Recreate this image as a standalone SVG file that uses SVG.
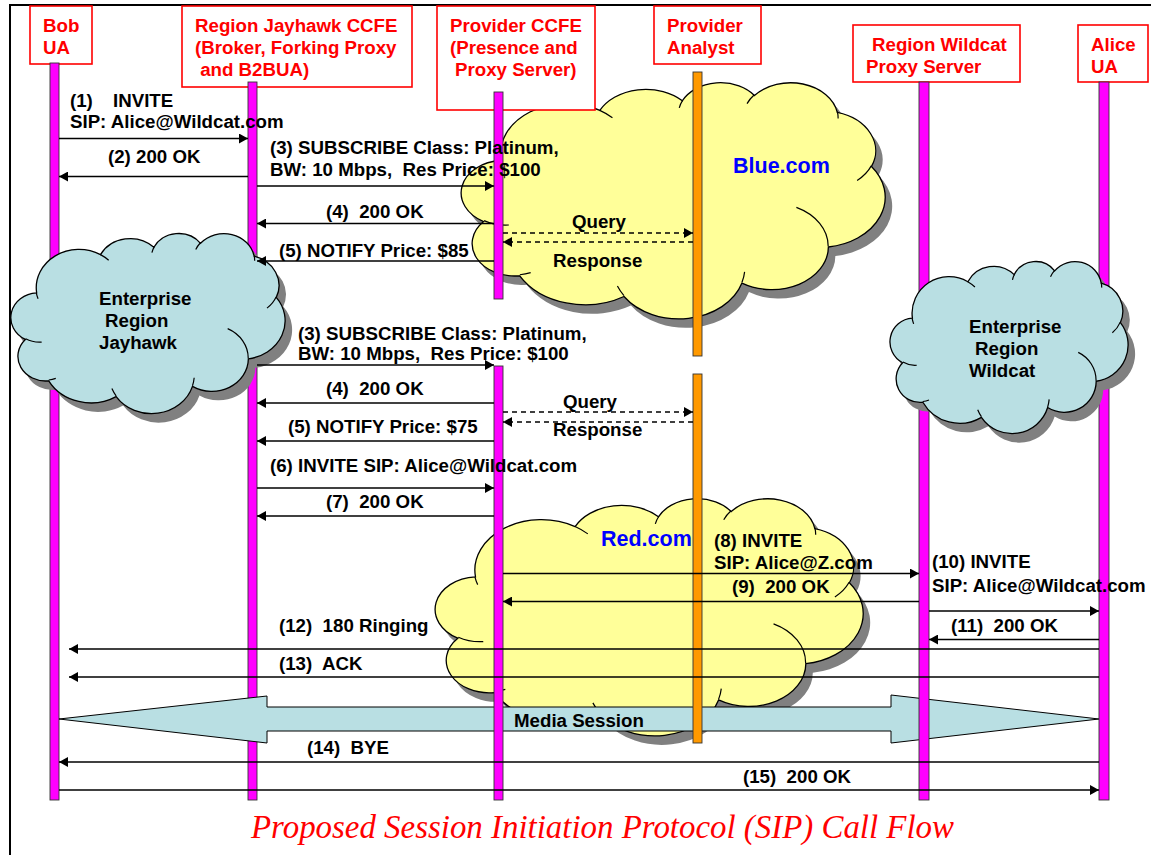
<svg xmlns="http://www.w3.org/2000/svg" xmlns:xlink="http://www.w3.org/1999/xlink" width="1151" height="855" viewBox="0 0 1151 855">
  <style>
    text { font-family: "Liberation Sans", Arial, sans-serif; font-weight: bold; font-size: 18.7px; white-space: pre; }
    .hdr { fill: #FF0000; }
    .hbox { fill: #FFFFFF; stroke: #FF0000; stroke-width: 1.6; }
    .life { fill: #FF00FF; stroke: #333333; stroke-width: 0.9; }
    .life-o { fill: #FF9900; stroke: #333333; stroke-width: 0.9; }
    .msg { stroke: #000000; stroke-width: 1.6; fill: none; marker-end: url(#ah); }
    .dash { stroke-dasharray: 5 4; }
    .lbl { fill: #000000; }
    .dom { fill: #0000FF; font-size: 21.5px; }
    .shadow { fill: #808080; stroke: none; }
    .yel { fill: #FFFF99; stroke: #000000; stroke-width: 1.3; }
    .cyan { fill: #B9DFE3; stroke: #000000; stroke-width: 1.3; }
    .inner { fill: none; stroke: #000000; stroke-width: 1.2; }
    .title { font-family: "Liberation Serif", "Times New Roman", serif; font-style: italic; font-weight: normal; font-size: 34px; fill: #FF0000; }
  </style>
  <defs>
    <marker id="ah" viewBox="0 0 9 10" refX="9" refY="5" markerWidth="9" markerHeight="10" markerUnits="userSpaceOnUse" orient="auto">
      <path d="M0,0 L9,5 L0,10 Z" fill="#000000"/>
    </marker>
    <!-- cloud outline in a 100x100 box, built from elliptical bumps -->
    <path id="cloud" vector-effect="non-scaling-stroke" d="M9.03,33.26 A15.63,21.27 0 0 1 32.42,12.04 A12.34,16.82 0 0 1 51.98,7.94 A10.10,13.76 0 0 1 69.06,5.73 A11.24,15.27 0 0 1 88.70,12.90 A12.34,16.84 0 0 1 96.80,35.78 A15.68,21.34 0 0 1 86.58,69.91 A13.39,18.21 0 0 1 66.10,85.21 A15.63,21.33 0 0 1 38.15,90.89 A17.87,24.41 0 0 1 13.44,82.11 A10.09,13.70 0 0 1 4.89,59.14 A10.06,13.76 0 0 1 9.03,33.26 Z"/>
    <!-- inner arcs where neighbouring bumps overlap -->
    <path id="cloud-in" vector-effect="non-scaling-stroke" d="M10.86,60.60 A10.06,13.76 0 0 1 5.00,58.75 M16.04,80.78 A10.09,13.70 0 0 1 13.47,81.67 M38.14,90.49 A15.63,21.33 0 0 1 36.59,86.45 M66.73,80.44 A15.63,21.33 0 0 1 66.11,84.86 M79.00,53.13 A13.39,18.21 0 0 1 86.53,69.65 M96.75,35.54 A12.34,16.84 0 0 1 93.40,41.74 M88.71,12.56 A11.24,15.27 0 0 1 88.89,15.48 M67.31,9.15 A11.24,15.27 0 0 1 69.03,5.41 M51.25,10.93 A10.10,13.76 0 0 1 52.08,7.71 M32.41,12.02 A15.63,21.27 0 0 1 35.41,15.14 M9.55,36.55 A15.63,21.27 0 0 1 8.90,33.25"/>
  </defs>

  <!-- page frame -->
  <path d="M10,855 V5 H1151" fill="none" stroke="#000000" stroke-width="2"/>

  <g id="bob-ua">
    <rect class="hbox" x="30" y="6" width="62" height="58"/>
    <text class="hdr" x="43" y="32">Bob</text>
    <text class="hdr" x="43" y="54">UA</text>
    <rect class="life" x="50" y="63" width="9" height="737"/>
  </g>

  <g id="region-jayhawk-ccfe">
    <rect class="hbox" x="182" y="6" width="230" height="81"/>
    <text class="hdr" x="195" y="32">Region Jayhawk CCFE</text>
    <text class="hdr" x="195" y="54">(Broker, Forking Proxy</text>
    <text class="hdr" x="195" y="76"> and B2BUA)</text>
    <rect class="life" x="248" y="82" width="9" height="718"/>
  </g>

  <g id="enterprise-region-jayhawk">
    <use xlink:href="#cloud" class="shadow" transform="translate(19,242) scale(2.73,1.80)"/>
    <use xlink:href="#cloud" class="cyan" transform="translate(12,233) scale(2.73,1.80)"/>
    <use xlink:href="#cloud-in" class="inner" transform="translate(12,233) scale(2.73,1.80)"/>
    <text class="lbl" x="99" y="305">Enterprise</text>
    <text class="lbl" x="105" y="327">Region</text>
    <text class="lbl" x="99" y="349">Jayhawk</text>
  </g>

  <g id="blue-com">
    <use xlink:href="#cloud" class="shadow" transform="translate(470,91) scale(4.22,2.36)"/>
    <use xlink:href="#cloud" class="yel" transform="translate(463,82) scale(4.22,2.36)"/>
    <use xlink:href="#cloud-in" class="inner" transform="translate(463,82) scale(4.22,2.36)"/>
    <text class="dom" x="733" y="173">Blue.com</text>
  </g>

  <g id="red-com">
    <use xlink:href="#cloud" class="shadow" transform="translate(444,507) scale(4.26,2.37)"/>
    <use xlink:href="#cloud" class="yel" transform="translate(437,498) scale(4.26,2.37)"/>
    <use xlink:href="#cloud-in" class="inner" transform="translate(437,498) scale(4.26,2.37)"/>
    <text class="dom" x="601" y="546">Red.com</text>
  </g>

  <g id="media-session">
    <polygon points="59,719 267,696 267,707 891,707 891,695 1099,719 891,743 891,731 267,731 267,743" fill="#B9DFE3" stroke="#000000" stroke-width="1"/>
    <text class="lbl" x="514" y="727">Media Session</text>
  </g>

  <g id="region-wildcat-proxy">
    <rect class="hbox" x="853" y="25" width="167" height="57"/>
    <text class="hdr" x="872" y="51">Region Wildcat</text>
    <text class="hdr" x="866" y="73">Proxy Server</text>
    <rect class="life" x="919" y="82" width="10" height="718"/>
  </g>

  <g id="alice-ua">
    <rect class="hbox" x="1078" y="25" width="70" height="57"/>
    <text class="hdr" x="1091" y="51">Alice</text>
    <text class="hdr" x="1091" y="73">UA</text>
    <rect class="life" x="1099" y="82" width="10" height="718"/>
  </g>

  <g id="enterprise-region-wildcat">
    <use xlink:href="#cloud" class="shadow" transform="translate(898,270) scale(2.37,1.72)"/>
    <use xlink:href="#cloud" class="cyan" transform="translate(891,261) scale(2.37,1.72)"/>
    <use xlink:href="#cloud-in" class="inner" transform="translate(891,261) scale(2.37,1.72)"/>
    <text class="lbl" x="969" y="333">Enterprise</text>
    <text class="lbl" x="975" y="355">Region</text>
    <text class="lbl" x="969" y="377">Wildcat</text>
  </g>

  <g id="provider-ccfe">
    <rect class="hbox" x="437" y="6" width="158" height="104"/>
    <text class="hdr" x="450" y="32">Provider CCFE</text>
    <text class="hdr" x="450" y="54">(Presence and</text>
    <text class="hdr" x="455" y="76">Proxy Server)</text>
    <rect class="life" x="494" y="92" width="9" height="207"/>
    <rect class="life" x="494" y="366" width="9" height="434"/>
  </g>

  <g id="provider-analyst">
    <rect class="hbox" x="654" y="6" width="107" height="58"/>
    <text class="hdr" x="667" y="32">Provider</text>
    <text class="hdr" x="667" y="54">Analyst</text>
    <rect class="life-o" x="693" y="72" width="9" height="284"/>
    <rect class="life-o" x="693" y="374" width="9" height="369"/>
  </g>

  <g id="connectors">
    <line class="msg" x1="59" y1="138.5" x2="248" y2="138.5"/>
    <line class="msg" x1="248" y1="176.5" x2="59" y2="176.5"/>
    <line class="msg" x1="257" y1="186" x2="494" y2="186"/>
    <line class="msg" x1="494" y1="223.5" x2="257" y2="223.5"/>
    <line class="msg" x1="494" y1="261" x2="257" y2="261"/>
    <line class="msg dash" x1="503" y1="233" x2="693" y2="233"/>
    <line class="msg dash" x1="693" y1="242" x2="503" y2="242"/>
    <line class="msg" x1="257" y1="365" x2="494" y2="365"/>
    <line class="msg" x1="494" y1="403" x2="257" y2="403"/>
    <line class="msg" x1="494" y1="441" x2="257" y2="441"/>
    <line class="msg dash" x1="503" y1="412" x2="693" y2="412"/>
    <line class="msg dash" x1="693" y1="422" x2="503" y2="422"/>
    <line class="msg" x1="257" y1="488" x2="494" y2="488"/>
    <line class="msg" x1="494" y1="516" x2="257" y2="516"/>
    <line class="msg" x1="503" y1="573.5" x2="919" y2="573.5"/>
    <line class="msg" x1="919" y1="601.5" x2="503" y2="601.5"/>
    <line class="msg" x1="929" y1="611" x2="1099" y2="611"/>
    <line class="msg" x1="1099" y1="639.5" x2="929" y2="639.5"/>
    <line class="msg" x1="1099" y1="649" x2="69" y2="649"/>
    <line class="msg" x1="1099" y1="677" x2="69" y2="677"/>
    <line class="msg" x1="1099" y1="762" x2="59" y2="762"/>
    <line class="msg" x1="59" y1="790" x2="1099" y2="790"/>

    <text class="lbl" x="70" y="107">(1)<tspan x="113">INVITE</tspan></text>
    <text class="lbl" x="70" y="128">SIP: Alice@Wildcat.com</text>
    <text class="lbl" x="108" y="163">(2) 200 OK</text>
    <text class="lbl" x="270" y="154">(3) SUBSCRIBE Class: Platinum,</text>
    <text class="lbl" x="270" y="176">BW: 10 Mbps,  Res Price: $100</text>
    <text class="lbl" x="326" y="218">(4)  200 OK</text>
    <text class="lbl" x="279" y="257">(5) NOTIFY Price: $85</text>
    <text class="lbl" x="572" y="228">Query</text>
    <text class="lbl" x="553" y="267">Response</text>

    <text class="lbl" x="298" y="340">(3) SUBSCRIBE Class: Platinum,</text>
    <text class="lbl" x="298" y="360">BW: 10 Mbps,  Res Price: $100</text>
    <text class="lbl" x="326" y="395">(4)  200 OK</text>
    <text class="lbl" x="288" y="433">(5) NOTIFY Price: $75</text>
    <text class="lbl" x="563" y="408">Query</text>
    <text class="lbl" x="553" y="436">Response</text>
    <text class="lbl" x="270" y="472">(6) INVITE SIP: Alice@Wildcat.com</text>
    <text class="lbl" x="326" y="508">(7)  200 OK</text>

    <text class="lbl" x="714" y="547">(8) INVITE</text>
    <text class="lbl" x="714" y="569">SIP: Alice@Z.com</text>
    <text class="lbl" x="732" y="593">(9)  200 OK</text>
    <text class="lbl" x="932" y="568">(10) INVITE</text>
    <text class="lbl" x="932" y="592">SIP: Alice@Wildcat.com</text>
    <text class="lbl" x="951" y="632">(11)  200 OK</text>
    <text class="lbl" x="279" y="632">(12)  180 Ringing</text>
    <text class="lbl" x="279" y="670">(13)  ACK</text>
    <text class="lbl" x="307" y="754">(14)  BYE</text>
    <text class="lbl" x="743" y="783">(15)  200 OK</text>
  </g>

  <text class="title" x="251" y="838" textLength="703" lengthAdjust="spacingAndGlyphs">Proposed Session Initiation Protocol (SIP) Call Flow</text>
</svg>
